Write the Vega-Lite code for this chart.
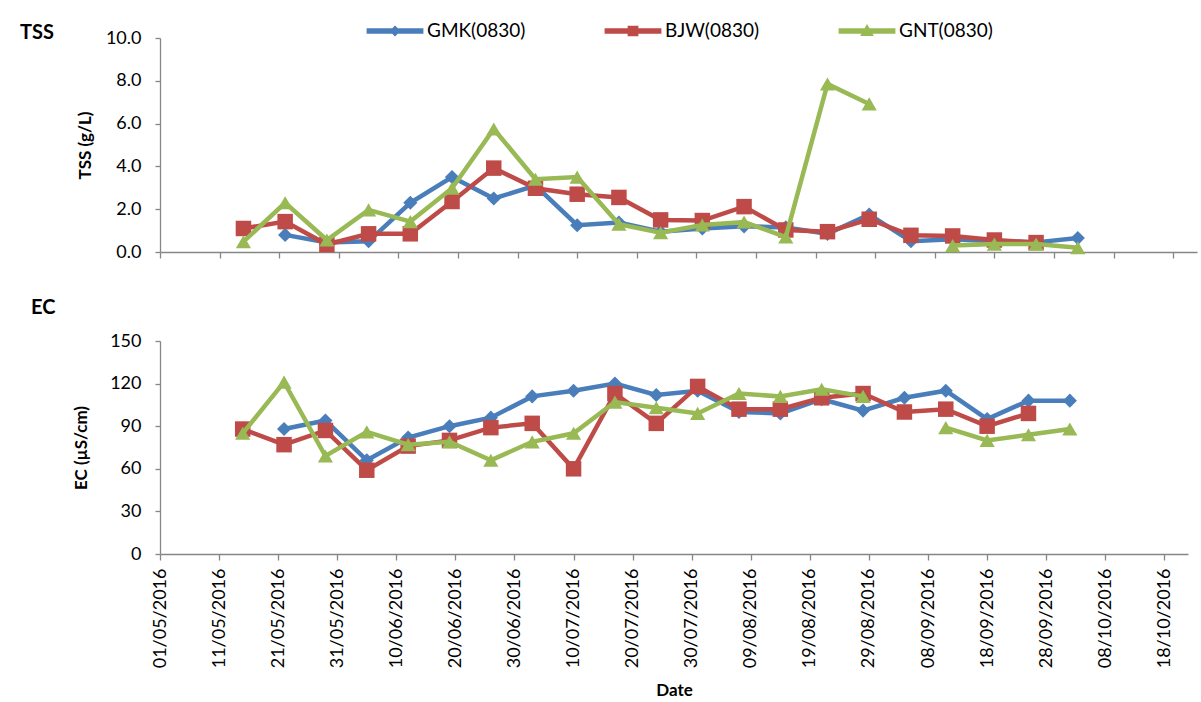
{
  "$schema": "https://vega.github.io/schema/vega-lite/v6.json",
  "padding": {"left": 20, "top": 21, "right": 2, "bottom": 2},
  "background": "white",
  "data": {
    "values": [
      {"date": "2016-05-22", "series": "GMK(0830)", "tss": 0.8, "ec": 88},
      {"date": "2016-05-29", "series": "GMK(0830)", "tss": 0.45, "ec": 94},
      {"date": "2016-06-05", "series": "GMK(0830)", "tss": 0.5, "ec": 66},
      {"date": "2016-06-12", "series": "GMK(0830)", "tss": 2.3, "ec": 82},
      {"date": "2016-06-19", "series": "GMK(0830)", "tss": 3.5, "ec": 90},
      {"date": "2016-06-26", "series": "GMK(0830)", "tss": 2.5, "ec": 96},
      {"date": "2016-07-03", "series": "GMK(0830)", "tss": 3.1, "ec": 111},
      {"date": "2016-07-10", "series": "GMK(0830)", "tss": 1.25, "ec": 115},
      {"date": "2016-07-17", "series": "GMK(0830)", "tss": 1.38, "ec": 120},
      {"date": "2016-07-24", "series": "GMK(0830)", "tss": 0.95, "ec": 112},
      {"date": "2016-07-31", "series": "GMK(0830)", "tss": 1.1, "ec": 115},
      {"date": "2016-08-07", "series": "GMK(0830)", "tss": 1.2, "ec": 100},
      {"date": "2016-08-14", "series": "GMK(0830)", "tss": 1.15, "ec": 99},
      {"date": "2016-08-21", "series": "GMK(0830)", "tss": 0.85, "ec": 109},
      {"date": "2016-08-28", "series": "GMK(0830)", "tss": 1.75, "ec": 101},
      {"date": "2016-09-04", "series": "GMK(0830)", "tss": 0.5, "ec": 110},
      {"date": "2016-09-11", "series": "GMK(0830)", "tss": 0.6, "ec": 115},
      {"date": "2016-09-18", "series": "GMK(0830)", "tss": 0.5, "ec": 95},
      {"date": "2016-09-25", "series": "GMK(0830)", "tss": 0.45, "ec": 108},
      {"date": "2016-10-02", "series": "GMK(0830)", "tss": 0.65, "ec": 108},
      {"date": "2016-05-15", "series": "BJW(0830)", "tss": 1.1, "ec": 88},
      {"date": "2016-05-22", "series": "BJW(0830)", "tss": 1.42, "ec": 77},
      {"date": "2016-05-29", "series": "BJW(0830)", "tss": 0.35, "ec": 87},
      {"date": "2016-06-05", "series": "BJW(0830)", "tss": 0.85, "ec": 59},
      {"date": "2016-06-12", "series": "BJW(0830)", "tss": 0.85, "ec": 76},
      {"date": "2016-06-19", "series": "BJW(0830)", "tss": 2.36, "ec": 80},
      {"date": "2016-06-26", "series": "BJW(0830)", "tss": 3.92, "ec": 89},
      {"date": "2016-07-03", "series": "BJW(0830)", "tss": 2.98, "ec": 92},
      {"date": "2016-07-10", "series": "BJW(0830)", "tss": 2.7, "ec": 60},
      {"date": "2016-07-17", "series": "BJW(0830)", "tss": 2.55, "ec": 113},
      {"date": "2016-07-24", "series": "BJW(0830)", "tss": 1.5, "ec": 92},
      {"date": "2016-07-31", "series": "BJW(0830)", "tss": 1.47, "ec": 118},
      {"date": "2016-08-07", "series": "BJW(0830)", "tss": 2.12, "ec": 102},
      {"date": "2016-08-14", "series": "BJW(0830)", "tss": 1.03, "ec": 102},
      {"date": "2016-08-21", "series": "BJW(0830)", "tss": 0.95, "ec": 110},
      {"date": "2016-08-28", "series": "BJW(0830)", "tss": 1.53, "ec": 113},
      {"date": "2016-09-04", "series": "BJW(0830)", "tss": 0.78, "ec": 100},
      {"date": "2016-09-11", "series": "BJW(0830)", "tss": 0.75, "ec": 102},
      {"date": "2016-09-18", "series": "BJW(0830)", "tss": 0.56, "ec": 90},
      {"date": "2016-09-25", "series": "BJW(0830)", "tss": 0.44, "ec": 99},
      {"date": "2016-05-15", "series": "GNT(0830)", "tss": 0.48, "ec": 85},
      {"date": "2016-05-22", "series": "GNT(0830)", "tss": 2.3, "ec": 121},
      {"date": "2016-05-29", "series": "GNT(0830)", "tss": 0.56, "ec": 69},
      {"date": "2016-06-05", "series": "GNT(0830)", "tss": 1.97, "ec": 86},
      {"date": "2016-06-12", "series": "GNT(0830)", "tss": 1.42, "ec": 77},
      {"date": "2016-06-19", "series": "GNT(0830)", "tss": 2.98, "ec": 79},
      {"date": "2016-06-26", "series": "GNT(0830)", "tss": 5.75, "ec": 66},
      {"date": "2016-07-03", "series": "GNT(0830)", "tss": 3.4, "ec": 79},
      {"date": "2016-07-10", "series": "GNT(0830)", "tss": 3.5, "ec": 85},
      {"date": "2016-07-17", "series": "GNT(0830)", "tss": 1.3, "ec": 107},
      {"date": "2016-07-24", "series": "GNT(0830)", "tss": 0.9, "ec": 103},
      {"date": "2016-07-31", "series": "GNT(0830)", "tss": 1.26, "ec": 99},
      {"date": "2016-08-07", "series": "GNT(0830)", "tss": 1.4, "ec": 113},
      {"date": "2016-08-14", "series": "GNT(0830)", "tss": 0.7, "ec": 111},
      {"date": "2016-08-21", "series": "GNT(0830)", "tss": 7.85, "ec": 116},
      {"date": "2016-08-28", "series": "GNT(0830)", "tss": 6.92, "ec": 111},
      {"date": "2016-09-04", "series": "GNT(0830)", "tss": null, "ec": null},
      {"date": "2016-09-11", "series": "GNT(0830)", "tss": 0.3, "ec": 89},
      {"date": "2016-09-18", "series": "GNT(0830)", "tss": 0.37, "ec": 80},
      {"date": "2016-09-25", "series": "GNT(0830)", "tss": 0.37, "ec": 84},
      {"date": "2016-10-02", "series": "GNT(0830)", "tss": 0.2, "ec": 88}
    ]
  },
  "spacing": 89,
  "bounds": "flush",
  "resolve": {"scale": {"x": "independent", "y": "independent", "color": "shared"}},
  "vconcat": [
    {
      "width": 1037,
      "height": 214,
      "title": {"text": "TSS", "anchor": "start", "frame": "group", "dx": -140, "dy": 14, "offset": 0, "fontSize": 20, "fontWeight": "bold", "font": "Lato", "color": "#000000"},
      "encoding": {
        "x": {"field": "date", "type": "temporal",
          "scale": {"type": "utc", "domain": [1462060800000, 1477094400000]},
          "axis": {"values": [1462060800000, 1462924800000, 1463788800000, 1464652800000, 1465516800000, 1466380800000, 1467244800000, 1468108800000, 1468972800000, 1469836800000, 1470700800000, 1471564800000, 1472428800000, 1473292800000, 1474156800000, 1475020800000, 1475884800000, 1476748800000], "labels": false, "title": null, "tickSize": 6}},
        "y": {"field": "tss", "type": "quantitative",
          "scale": {"domain": [0, 10]},
          "axis": {"values": [0, 2, 4, 6, 8, 10], "format": ".1f", "title": "TSS (g/L)", "labelPadding": 14, "tickSize": 5, "titlePadding": 11}},
        "color": {"field": "series", "type": "nominal",
          "scale": {"domain": ["GMK(0830)", "BJW(0830)", "GNT(0830)"], "range": ["#4A7EBB", "#BE4B48", "#98B954"]},
          "legend": {"title": null, "orient": "none", "direction": "horizontal", "legendX": 225, "legendY": -17, "symbolSize": 340, "labelFont": "Lato", "labelFontSize": 19, "labelColor": "#000000", "labelOffset": 22, "columnPadding": 76,
            "encode": {"symbols": {"update": {
              "shape": {"signal": "datum.value == 'GMK(0830)' ? 'M-3,-0.22H3V0.22H-3Z M0,-0.48L0.48,0L0,0.48L-0.48,0Z' : datum.value == 'BJW(0830)' ? 'M-3,-0.22H3V0.22H-3Z M-0.5,-0.5H0.5V0.5H-0.5Z' : 'M-3,-0.22H3V0.22H-3Z M0,-0.6L0.6,0.45H-0.6Z'"},
              "fill": {"scale": "color", "field": "value"},
              "stroke": {"value": "transparent"},
              "size": {"value": 340},
              "opacity": {"value": 1}}}}}}
      },
      "layer": [
        {"transform": [{"filter": "datum.series == 'GMK(0830)'"}], "mark": {"type": "line", "strokeWidth": 4.5}},
        {"transform": [{"filter": "datum.series == 'GMK(0830)'"}], "mark": {"type": "point", "shape": "diamond", "filled": true, "size": 200, "opacity": 1}},
        {"transform": [{"filter": "datum.series == 'BJW(0830)'"}], "mark": {"type": "line", "strokeWidth": 4.5}},
        {"transform": [{"filter": "datum.series == 'BJW(0830)'"}], "mark": {"type": "point", "shape": "square", "filled": true, "size": 240, "opacity": 1}},
        {"transform": [{"filter": "datum.series == 'GNT(0830)'"}], "mark": {"type": "line", "strokeWidth": 4.5}},
        {"transform": [{"filter": "datum.series == 'GNT(0830)'"}], "mark": {"type": "point", "shape": "triangle-up", "filled": true, "size": 230, "opacity": 1}}
      ]
    },
    {
      "width": 1028,
      "height": 213,
      "title": {"text": "EC", "anchor": "start", "frame": "group", "dx": -129, "dy": -14, "offset": 0, "fontSize": 20, "fontWeight": "bold", "font": "Lato", "color": "#000000"},
      "encoding": {
        "x": {"field": "date", "type": "temporal",
          "scale": {"type": "utc", "domain": [1462060800000, 1477094400000]},
          "axis": {"values": [1462060800000, 1462924800000, 1463788800000, 1464652800000, 1465516800000, 1466380800000, 1467244800000, 1468108800000, 1468972800000, 1469836800000, 1470700800000, 1471564800000, 1472428800000, 1473292800000, 1474156800000, 1475020800000, 1475884800000, 1476748800000], "format": "%d/%m/%Y", "labelAngle": -90, "labelPadding": 8, "tickSize": 6, "title": "Date", "titlePadding": 15, "labelOverlap": false}},
        "y": {"field": "ec", "type": "quantitative",
          "scale": {"domain": [0, 150]},
          "axis": {"values": [0, 30, 60, 90, 120, 150], "title": "EC (µS/cm)", "labelPadding": 14, "tickSize": 5, "titlePadding": 19}},
        "color": {"field": "series", "type": "nominal",
          "scale": {"domain": ["GMK(0830)", "BJW(0830)", "GNT(0830)"], "range": ["#4A7EBB", "#BE4B48", "#98B954"]},
          "legend": {"title": null, "orient": "none", "direction": "horizontal", "legendX": 225, "legendY": -17, "symbolSize": 340, "labelFont": "Lato", "labelFontSize": 19, "labelColor": "#000000", "labelOffset": 22, "columnPadding": 76,
            "encode": {"symbols": {"update": {
              "shape": {"signal": "datum.value == 'GMK(0830)' ? 'M-3,-0.22H3V0.22H-3Z M0,-0.48L0.48,0L0,0.48L-0.48,0Z' : datum.value == 'BJW(0830)' ? 'M-3,-0.22H3V0.22H-3Z M-0.5,-0.5H0.5V0.5H-0.5Z' : 'M-3,-0.22H3V0.22H-3Z M0,-0.6L0.6,0.45H-0.6Z'"},
              "fill": {"scale": "color", "field": "value"},
              "stroke": {"value": "transparent"},
              "size": {"value": 340},
              "opacity": {"value": 1}}}}}}
      },
      "layer": [
        {"transform": [{"filter": "datum.series == 'GMK(0830)'"}], "mark": {"type": "line", "strokeWidth": 4.5}},
        {"transform": [{"filter": "datum.series == 'GMK(0830)'"}], "mark": {"type": "point", "shape": "diamond", "filled": true, "size": 200, "opacity": 1}},
        {"transform": [{"filter": "datum.series == 'BJW(0830)'"}], "mark": {"type": "line", "strokeWidth": 4.5}},
        {"transform": [{"filter": "datum.series == 'BJW(0830)'"}], "mark": {"type": "point", "shape": "square", "filled": true, "size": 240, "opacity": 1}},
        {"transform": [{"filter": "datum.series == 'GNT(0830)'"}], "mark": {"type": "line", "strokeWidth": 4.5}},
        {"transform": [{"filter": "datum.series == 'GNT(0830)'"}], "mark": {"type": "point", "shape": "triangle-up", "filled": true, "size": 230, "opacity": 1}}
      ]
    }
  ],
  "config": {
    "font": "Lato",
    "view": {"stroke": null},
    "axis": {"domainColor": "#868686", "tickColor": "#868686", "domainWidth": 1.3, "tickWidth": 1.3, "grid": false, "labelFont": "Lato", "labelFontSize": 18, "labelColor": "#000000", "titleFont": "Lato", "titleFontSize": 17, "titleFontWeight": "bold", "titleColor": "#000000"}
  }
}
